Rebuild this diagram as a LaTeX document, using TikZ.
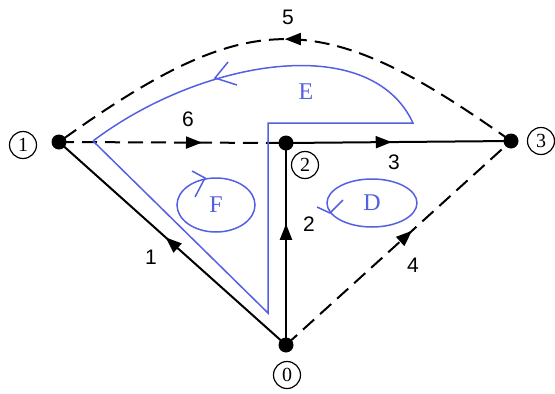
\documentclass[tikz,border=0pt]{standalone}
\usepackage{fontspec}
\setmainfont{Liberation Serif}
\newfontfamily\sansf{Liberation Sans}
\usetikzlibrary{arrows.meta,decorations.markings,shapes.geometric}
\definecolor{loopblue}{RGB}{85,95,225}
\tikzset{
  vdot/.style={circle,fill=black,inner sep=0pt,minimum size=15pt},
  clab/.style={circle,draw=black,line width=1.2pt,inner sep=0pt,minimum size=27pt,font=\fontsize{20}{22}\selectfont},
  elab/.style={font=\sansf\fontsize{21}{24}\selectfont,inner sep=0pt},
  edge/.style={line width=2pt,black},
  dashedge/.style={edge,dash pattern=on 15pt off 8pt},
  midarrow/.style={postaction={decorate},decoration={markings,mark=at position #1 with {\arrow{Triangle[length=16pt,width=12pt]}}}},
  bluepath/.style={loopblue,line width=1.5pt,line join=miter},
  loopnode/.style={ellipse,draw=loopblue,line width=1.5pt,text=loopblue,inner sep=0pt,font=\fontsize{24}{26}\selectfont},
  looplab/.style={text=loopblue,inner sep=0pt,font=\fontsize{24}{26}\selectfont}
}
\begin{document}
\begin{tikzpicture}[x=1pt,y=-1pt]
\useasboundingbox (0,0) rectangle (555,394);
% vertices
\node[vdot] (v1) at (59,142) {};
\node[vdot] (v2) at (286,143) {};
\node[vdot] (v3) at (511,141) {};
\node[vdot] (v0) at (286,345) {};
% circled labels
\node[clab] (l1) at (23,145) {1};
\node[clab] (l2) at (305,165) {2};
\node[clab] (l3) at (541,141) {3};
\node[clab] (l0) at (287,375) {0};
% edges
\draw[edge,midarrow=0.53] (v0.center) -- (v1.center);
\draw[edge,midarrow=0.6] (v0.center) -- (v2.center);
\draw[edge,midarrow=0.47] (v2.center) -- (v3.center);
\draw[dashedge,midarrow=0.56] (v0.center) -- (v3.center);
\draw[dashedge,midarrow=0.63] (v1.center) -- (v2.center);
\draw[dashedge,midarrow=0.5] (v3.center) .. controls (320,5) and (250,5) .. (v1.center);
% edge labels
\node[elab] (t1) at (151,257) {1};
\node[elab] (t2) at (309,224) {2};
\node[elab] (t3) at (394,162) {3};
\node[elab] (t4) at (413,265) {4};
\node[elab] (t5) at (288,17) {5};
\node[elab] (t6) at (188,119) {6};
% blue loops
\coordinate (b1) at (93,141);
\coordinate (b2) at (268,313);
\coordinate (b3) at (268,123);
\coordinate (b4) at (413,123);
\draw[bluepath] (b1) -- (b2) -- (b3) -- (b4) .. controls (370,30) and (200,60) .. (b1);
\draw[bluepath] (228,62) -- (215,78) -- (237,85);
\node[looplab] (E) at (306,92) {E};
\node[loopnode,minimum width=78pt,minimum height=54pt] (F) at (216,205) {F};
\draw[bluepath] (192,171) -- (205,178) -- (195,197);
\node[loopnode,minimum width=90pt,minimum height=48pt] (D) at (372,203) {D};
\draw[bluepath] (317,207) -- (330,213) -- (343,200);
\end{tikzpicture}
\end{document}
